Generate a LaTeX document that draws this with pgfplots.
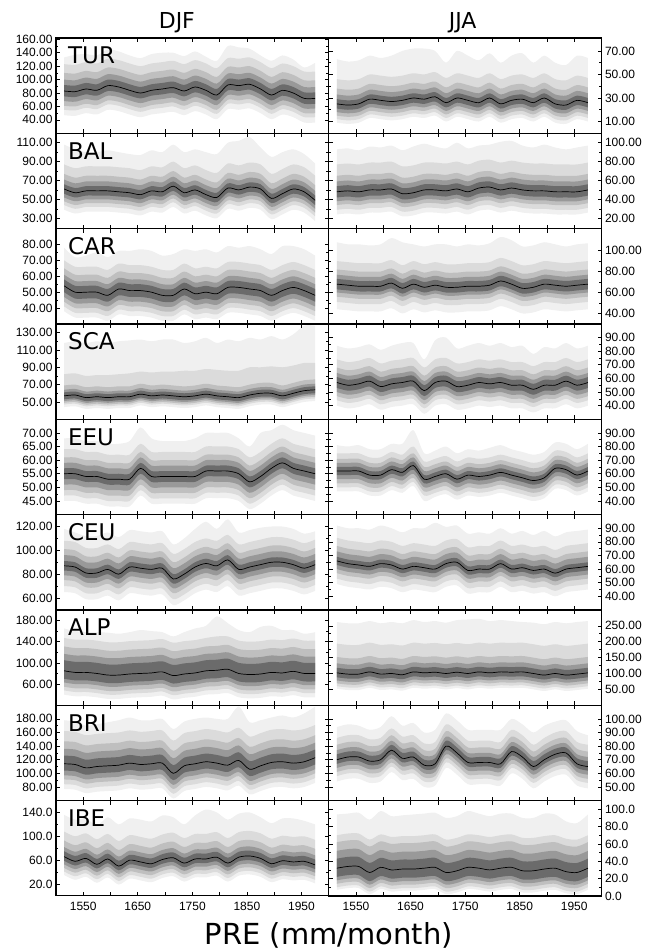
\documentclass[border=0pt]{standalone}
\usepackage{fontspec}
\setmainfont{Liberation Sans}
\newfontfamily\djv{DejaVu Sans}
\usepackage{pgfplots}
\usepackage{pgfplotstable}
\pgfplotsset{compat=1.18}
\usepgfplotslibrary{groupplots,fillbetween}

\definecolor{bandO}{gray}{0.94}
\definecolor{bandA}{gray}{0.86}
\definecolor{bandB}{gray}{0.75}
\definecolor{bandC}{gray}{0.60}
\definecolor{bandD}{gray}{0.42}

% columns: year, median, then lower/upper of the five bands (inner d .. outer o)
\pgfplotstableread{
x m d1 d2 c1 c2 b1 b2 a1 a2 o1 o2
1515 83 75 92 68 100 61 110 55 123 47 133
1535 82 74 91 67 99 60 109 54 122 46 137
1555 86 78 95 71 103 64 113 58 126 50 138
1575 84 76 93 69 101 62 111 56 124 48 136
1595 91 83 100 76 108 69 118 63 131 55 145
1615 89 81 98 74 106 67 116 61 129 53 142
1635 84 76 93 69 101 62 111 56 124 48 136
1655 80 72 89 65 97 58 107 52 120 44 132
1675 84 76 93 69 101 62 111 56 124 48 138
1695 86 78 95 71 103 64 113 58 126 50 140
1715 88 80 97 73 105 66 115 60 128 52 140
1735 83 75 92 68 100 61 110 55 123 47 135
1755 89 81 98 74 106 67 116 61 129 53 142
1775 84 76 93 69 101 62 111 56 124 48 134
1795 77 69 86 62 94 55 104 49 117 41 128
1815 92 84 101 77 109 70 119 64 132 56 150
1835 91 83 100 76 108 69 118 63 131 55 148
1855 93 85 102 78 110 71 120 65 133 57 146
1875 86 78 95 71 103 64 113 58 126 50 136
1895 77 69 86 62 94 55 104 49 117 41 128
1915 84 76 93 69 101 62 111 56 124 48 136
1935 80 72 89 65 97 58 107 52 120 44 130
1955 72 64 81 57 89 50 99 44 112 36 118
1975 72 64 81 57 89 50 99 44 112 36 125
}\turdjf
\pgfplotstableread{
x m d1 d2 c1 c2 b1 b2 a1 a2 o1 o2
1515 25 21 29 18 33 15 38 12 46 9 63
1535 24 20 28 17 32 14 37 11 45 8 61
1555 25 21 29 18 33 15 38 12 46 9 62
1575 29 25 33 22 37 19 42 16 50 13 66
1595 28 24 32 21 36 18 41 15 49 12 64
1615 27 23 31 20 35 17 40 14 48 11 66
1635 28 24 32 21 36 18 41 15 49 12 70
1655 30 26 34 23 38 20 43 17 51 14 72
1675 29 25 33 22 37 19 42 16 50 13 72
1695 31 27 35 24 39 21 44 18 52 15 70
1715 26 22 30 19 34 16 39 13 47 10 60
1735 30 26 34 23 38 20 43 17 51 14 70
1755 28 24 32 21 36 18 41 15 49 12 66
1775 26 22 30 19 34 16 39 13 47 10 62
1795 30 26 34 23 38 20 43 17 51 14 68
1815 25 21 29 18 33 15 38 12 46 9 60
1835 28 24 32 21 36 18 41 15 49 12 66
1855 29 25 33 22 37 19 42 16 50 13 68
1875 26 22 30 19 34 16 39 13 47 10 60
1895 30 26 34 23 38 20 43 17 51 14 66
1915 25 21 29 18 33 15 38 12 46 9 60
1935 24 20 28 17 32 14 37 11 45 8 58
1955 28 24 32 21 36 18 41 15 49 12 66
1975 26 22 30 19 34 16 39 13 47 10 64
}\turjja
\pgfplotstableread{
x m d1 d2 c1 c2 b1 b2 a1 a2 o1 o2
1515 61 56 66 52 71 48 77 44 87 39 108
1535 57 52 62 48 67 44 73 40 83 35 103
1555 59 54 64 50 69 46 75 42 85 37 100
1575 59 54 64 50 69 46 75 42 85 37 100
1595 59 54 64 50 69 46 75 42 85 37 102
1615 58 53 63 49 68 45 74 41 84 36 100
1635 57 52 62 48 67 44 73 40 83 35 98
1655 55 50 60 46 65 42 71 38 81 33 97
1675 59 54 64 50 69 46 75 42 85 37 102
1695 58 53 63 49 68 45 74 41 84 36 100
1715 64 59 69 55 74 51 80 47 90 42 108
1735 57 52 62 48 67 44 73 40 83 35 100
1755 60 55 65 51 70 47 76 43 86 38 103
1775 55 50 60 46 65 42 71 38 81 33 100
1795 52 47 57 43 62 39 68 35 78 30 98
1815 62 57 67 53 72 49 78 45 88 40 110
1835 60 55 65 51 70 47 76 43 86 38 112
1855 63 58 68 54 73 50 79 46 89 41 116
1875 61 56 66 52 71 48 77 44 87 39 105
1895 51 46 56 42 61 38 67 34 77 29 95
1915 56 51 61 47 66 43 72 39 82 34 100
1935 61 56 66 52 71 48 77 44 87 39 103
1955 58 53 63 49 68 45 74 41 84 36 98
1975 49 44 54 40 59 36 65 32 75 27 88
}\baldjf
\pgfplotstableread{
x m d1 d2 c1 c2 b1 b2 a1 a2 o1 o2
1515 48 42 54 38 59 34 65 29 77 24 93
1535 49 43 55 39 60 35 66 30 78 25 94
1555 48 42 54 38 59 34 65 29 77 24 92
1575 50 44 56 40 61 36 67 31 79 26 96
1595 50 44 56 40 61 36 67 31 79 26 95
1615 51 45 57 41 62 37 68 32 80 27 97
1635 46 40 52 36 57 32 63 27 75 22 92
1655 47 41 53 37 58 33 64 28 76 23 96
1675 50 44 56 40 61 36 67 31 79 26 99
1695 50 44 56 40 61 36 67 31 79 26 96
1715 49 43 55 39 60 35 66 30 78 25 94
1735 51 45 57 41 62 37 68 32 80 27 100
1755 48 42 54 38 59 34 65 29 77 24 94
1775 52 46 58 42 63 38 69 33 81 28 97
1795 53 47 59 43 64 39 70 34 82 29 98
1815 50 44 56 40 61 36 67 31 79 26 101
1835 52 46 58 42 63 38 69 33 81 28 102
1855 50 44 56 40 61 36 67 31 79 26 97
1875 49 43 55 39 60 35 66 30 78 25 95
1895 49 43 55 39 60 35 66 30 78 25 98
1915 48 42 54 38 59 34 65 29 77 24 95
1935 48 42 54 38 59 34 65 29 77 24 93
1955 48 42 54 38 59 34 65 29 77 24 95
1975 50 44 56 40 61 36 67 31 79 26 97
}\baljja
\pgfplotstableread{
x m d1 d2 c1 c2 b1 b2 a1 a2 o1 o2
1515 54 50 58 47 61 44 65 41 70 38 78
1535 50 46 54 43 57 40 61 37 66 34 72
1555 50 46 54 43 57 40 61 37 66 34 73
1575 50 46 54 43 57 40 61 37 66 34 75
1595 48 44 52 41 55 38 59 35 64 32 72
1615 52 48 56 45 59 42 63 39 68 36 76
1635 51 47 55 44 58 41 62 38 67 35 76
1655 51 47 55 44 58 41 62 38 67 35 77
1675 50 46 54 43 57 40 61 37 66 34 76
1695 48 44 52 41 55 38 59 35 64 32 73
1715 48 44 52 41 55 38 59 35 64 32 74
1735 52 48 56 45 59 42 63 39 68 36 77
1755 49 45 53 42 56 39 60 36 65 33 76
1775 50 46 54 43 57 40 61 37 66 34 77
1795 49 45 53 42 56 39 60 36 65 33 75
1815 53 49 57 46 60 43 64 40 69 37 79
1835 53 49 57 46 60 43 64 40 69 37 78
1855 52 48 56 45 59 42 63 39 68 36 79
1875 51 47 55 44 58 41 62 38 67 35 77
1895 48 44 52 41 55 38 59 35 64 32 74
1915 51 47 55 44 58 41 62 38 67 35 79
1935 53 49 57 46 60 43 64 40 69 37 79
1955 51 47 55 44 58 41 62 38 67 35 77
1975 48 44 52 41 55 38 59 35 64 32 73
}\cardjf
\pgfplotstableread{
x m d1 d2 c1 c2 b1 b2 a1 a2 o1 o2
1515 68 63 73 60 77 56 82 51 90 44 108
1535 67 62 72 59 76 55 81 50 89 43 106
1555 66 61 71 58 75 54 80 49 88 42 106
1575 66 61 71 58 75 54 80 49 88 42 105
1595 66 61 71 58 75 54 80 49 88 42 106
1615 69 64 74 61 78 57 83 52 91 45 112
1635 64 59 69 56 73 52 78 47 86 40 108
1655 68 63 73 60 77 56 82 51 90 44 106
1675 65 60 70 57 74 53 79 48 87 41 104
1695 67 62 72 59 76 55 81 50 89 43 106
1715 65 60 70 57 74 53 79 48 87 41 106
1735 65 60 70 57 74 53 79 48 87 41 104
1755 66 61 71 58 75 54 80 49 88 42 106
1775 66 61 71 58 75 54 80 49 88 42 105
1795 67 62 72 59 76 55 81 50 89 43 107
1815 71 66 76 63 80 59 85 54 93 47 113
1835 68 63 73 60 77 56 82 51 90 44 110
1855 64 59 69 56 73 52 78 47 86 40 104
1875 65 60 70 57 74 53 79 48 87 41 105
1895 68 63 73 60 77 56 82 51 90 44 108
1915 67 62 72 59 76 55 81 50 89 43 106
1935 66 61 71 58 75 54 80 49 88 42 104
1955 67 62 72 59 76 55 81 50 89 43 106
1975 68 63 73 60 77 56 82 51 90 44 107
}\carjja
\pgfplotstableread{
x m d1 d2 c1 c2 b1 b2 a1 a2 o1 o2
1515 57 53 61 51 64 49 69 47 82 44 118
1535 58 54 62 52 65 50 70 48 83 45 120
1555 55 51 59 49 62 47 67 45 80 42 118
1575 56 52 60 50 63 48 68 46 81 43 120
1595 55 51 59 49 62 47 67 45 81 42 118
1615 56 52 60 50 63 48 68 46 82 43 120
1635 56 52 60 50 63 48 68 46 83 43 121
1655 59 55 63 53 66 51 71 49 85 46 122
1675 57 53 61 51 64 49 69 47 84 44 120
1695 58 54 62 52 65 50 70 48 85 45 122
1715 57 53 61 51 64 49 69 47 85 44 122
1735 56 52 60 50 63 48 68 46 86 43 118
1755 57 53 61 51 64 49 69 47 86 44 120
1775 59 55 63 53 66 51 71 49 88 46 124
1795 57 53 61 51 64 49 69 47 87 44 118
1815 56 52 60 50 63 48 68 46 86 43 122
1835 55 51 59 49 62 47 67 45 86 42 120
1855 58 54 62 52 65 50 70 48 90 45 124
1875 60 56 64 54 67 52 72 50 90 47 122
1895 60 56 64 54 67 52 72 50 91 47 126
1915 57 53 61 51 64 49 69 47 90 44 122
1935 60 56 64 54 67 52 72 50 92 47 128
1955 63 59 67 57 70 55 75 53 95 50 138
1975 64 60 68 58 71 56 76 54 95 51 138
}\scadjf
\pgfplotstableread{
x m d1 d2 c1 c2 b1 b2 a1 a2 o1 o2
1515 57 53 61 50 64 47 68 44 74 40 84
1535 55 51 59 48 62 45 66 42 72 38 82
1555 56 52 60 49 63 46 67 43 73 39 83
1575 58 54 62 51 65 48 69 45 75 41 85
1595 54 50 58 47 61 44 65 41 71 37 81
1615 56 52 60 49 63 46 67 43 73 39 84
1635 57 53 61 50 64 47 68 44 74 40 86
1655 58 54 62 51 65 48 69 45 75 41 86
1675 51 47 55 44 58 41 62 38 68 34 74
1695 57 53 61 50 64 47 68 44 74 40 88
1715 58 54 62 51 65 48 69 45 75 41 90
1735 54 50 58 47 61 44 65 41 71 37 82
1755 55 51 59 48 62 45 66 42 72 38 84
1775 57 53 61 50 64 47 68 44 74 40 86
1795 56 52 60 49 63 46 67 43 73 39 84
1815 57 53 61 50 64 47 68 44 74 40 86
1835 55 51 59 48 62 45 66 42 72 38 83
1855 55 51 59 48 62 45 66 42 72 38 84
1875 52 48 56 45 59 42 63 39 69 35 78
1895 55 51 59 48 62 45 66 42 72 38 83
1915 55 51 59 48 62 45 66 42 72 38 82
1935 58 54 62 51 65 48 69 45 75 41 86
1955 55 51 59 48 62 45 66 42 72 38 82
1975 57 53 61 50 64 47 68 44 74 40 84
}\scajja
\pgfplotstableread{
x m d1 d2 c1 c2 b1 b2 a1 a2 o1 o2
1515 55 53 57 51 59 49 61 47 64 45 68
1535 55 53 57 51 59 49 61 47 64 45 68
1555 54 52 56 50 58 48 60 46 63 44 67
1575 54 52 56 50 58 48 60 46 63 44 67
1595 53 51 55 49 57 47 59 45 62 43 66
1615 53 51 55 49 57 47 59 45 62 43 66
1635 53 51 55 49 57 47 59 45 62 43 67
1655 57 55 59 53 61 51 63 49 66 47 72
1675 54 52 56 50 58 48 60 46 63 44 68
1695 54 52 56 50 58 48 60 46 63 44 67
1715 54 52 56 50 58 48 60 46 63 44 67
1735 54 52 56 50 58 48 60 46 63 44 67
1755 54 52 56 50 58 48 60 46 63 44 68
1775 56 54 58 52 60 50 62 48 65 46 70
1795 56 54 58 52 60 50 62 48 65 46 70
1815 56 54 58 52 60 50 62 48 65 46 70
1835 55 53 57 51 59 49 61 47 64 45 68
1855 52 50 54 48 56 46 58 44 61 42 65
1875 54 52 56 50 58 48 60 46 63 44 70
1895 57 55 59 53 61 51 63 49 66 47 71
1915 59 57 61 55 63 53 65 51 68 49 73
1935 57 55 59 53 61 51 63 49 66 47 71
1955 56 54 58 52 60 50 62 48 65 46 70
1975 55 53 57 51 59 49 61 47 64 45 69
}\eeudjf
\pgfplotstableread{
x m d1 d2 c1 c2 b1 b2 a1 a2 o1 o2
1515 62 59 65 56 68 53 71 50 75 47 81
1535 62 59 65 56 68 53 71 50 75 47 80
1555 62 59 65 56 68 53 71 50 75 47 81
1575 59 56 62 53 65 50 68 47 72 44 78
1595 59 56 62 53 65 50 68 47 72 44 78
1615 63 60 66 57 69 54 72 51 76 48 82
1635 61 58 64 55 67 52 70 49 74 46 82
1655 66 63 69 60 72 57 75 54 80 51 92
1675 56 53 59 50 62 47 65 44 69 40 75
1695 58 55 61 52 64 49 67 46 71 43 77
1715 60 57 63 54 66 51 69 48 73 45 80
1735 56 53 59 50 62 47 65 44 69 41 75
1755 59 56 62 53 65 50 68 47 72 44 78
1775 58 55 61 52 64 49 67 46 71 43 77
1795 59 56 62 53 65 50 68 47 72 44 79
1815 61 58 64 55 67 52 70 49 74 46 81
1835 59 56 62 53 65 50 68 47 72 44 78
1855 57 54 60 51 63 48 66 45 70 42 76
1875 55 52 58 49 61 46 64 43 68 40 74
1895 57 54 60 51 63 48 66 45 70 42 76
1915 64 61 67 58 70 55 73 52 77 49 83
1935 63 60 66 57 69 54 72 51 76 48 82
1955 59 56 62 53 65 50 68 47 72 44 78
1975 62 59 65 56 68 53 71 50 75 47 82
}\eeujja
\pgfplotstableread{
x m d1 d2 c1 c2 b1 b2 a1 a2 o1 o2
1515 87 83 91 79 96 75 101 70 108 65 118
1535 86 82 90 78 95 74 100 69 107 64 115
1555 81 77 85 73 90 69 95 64 102 59 112
1575 81 77 85 73 90 69 95 64 102 59 112
1595 84 80 88 76 93 72 98 67 105 62 115
1615 80 76 84 72 89 68 94 63 101 58 111
1635 86 82 90 78 95 74 100 69 107 64 117
1655 85 81 89 77 94 73 99 68 106 63 116
1675 84 80 88 76 93 72 98 67 105 62 115
1695 85 81 89 77 94 73 99 68 106 63 116
1715 76 72 80 68 85 64 90 59 97 54 105
1735 80 76 84 72 89 68 94 63 101 58 110
1755 86 82 90 78 95 74 100 69 107 64 118
1775 89 85 93 81 98 77 103 72 110 67 124
1795 87 83 91 79 96 75 101 70 108 65 118
1815 92 88 96 84 101 80 106 75 113 70 126
1835 84 80 88 76 93 72 98 67 105 62 115
1855 86 82 90 78 95 74 100 69 107 64 117
1875 88 84 92 80 97 76 102 71 109 66 119
1895 90 86 94 82 99 78 104 73 111 68 120
1915 90 86 94 82 99 78 104 73 111 68 120
1935 88 84 92 80 97 76 102 71 109 66 118
1955 85 81 89 77 94 73 99 68 106 63 114
1975 88 84 92 80 97 76 102 71 109 66 116
}\ceudjf
\pgfplotstableread{
x m d1 d2 c1 c2 b1 b2 a1 a2 o1 o2
1515 66 63 69 60 73 57 77 53 83 49 92
1535 64 61 67 58 71 55 75 51 81 47 90
1555 63 60 66 57 70 54 74 50 80 46 90
1575 62 59 65 56 69 53 73 49 79 45 89
1595 64 61 67 58 71 55 75 51 81 47 92
1615 63 60 66 57 70 54 74 50 80 46 90
1635 60 57 63 54 67 51 71 47 77 43 87
1655 62 59 65 56 69 53 73 49 79 45 90
1675 61 58 64 55 68 52 72 48 78 44 90
1695 60 57 63 54 67 51 71 47 77 43 94
1715 64 61 67 58 71 55 75 51 81 47 91
1735 65 62 68 59 72 56 76 52 82 48 92
1755 59 56 62 53 66 50 70 46 76 42 86
1775 60 57 63 54 67 51 71 47 77 43 87
1795 60 57 63 54 67 51 71 47 77 43 86
1815 64 61 67 58 71 55 75 51 81 47 90
1835 60 57 63 54 67 51 71 47 77 43 86
1855 61 58 64 55 68 52 72 48 78 44 88
1875 59 56 62 53 66 50 70 46 76 42 85
1895 60 57 63 54 67 51 71 47 77 43 88
1915 57 54 60 51 64 48 68 44 74 40 84
1935 60 57 63 54 67 51 71 47 77 43 87
1955 61 58 64 55 68 52 72 48 78 44 88
1975 62 59 65 56 69 53 73 49 79 45 89
}\ceujja
\pgfplotstableread{
x m d1 d2 c1 c2 b1 b2 a1 a2 o1 o2
1515 85 70 105 63 117 55 131 48 147 40 165
1535 82 67 102 60 114 52 128 45 144 37 160
1555 82 67 102 60 114 52 128 45 144 37 158
1575 80 65 100 58 112 50 126 43 142 35 158
1595 77 62 97 55 109 47 123 40 139 32 157
1615 77 62 97 55 109 47 123 40 139 32 155
1635 79 64 99 57 111 49 125 42 141 34 158
1655 80 65 100 58 112 50 126 43 142 35 162
1675 81 66 101 59 113 51 127 44 143 36 160
1695 83 68 103 61 115 53 129 46 145 38 158
1715 76 61 96 54 108 46 122 39 138 31 150
1735 79 64 99 57 111 49 125 42 141 34 158
1755 81 66 101 59 113 51 127 44 143 36 165
1775 85 70 105 63 117 55 131 48 147 40 170
1795 86 71 106 64 118 56 132 49 150 41 188
1815 88 73 108 66 120 58 134 51 150 43 175
1835 80 65 100 58 112 50 126 43 142 35 162
1855 78 63 98 56 110 48 124 41 140 33 158
1875 79 64 99 57 111 49 125 42 141 34 168
1895 82 67 102 60 114 52 128 45 144 37 170
1915 81 66 101 59 113 51 127 44 143 36 162
1935 84 69 104 62 116 54 130 47 146 39 162
1955 80 65 100 58 112 50 126 43 142 35 155
1975 80 65 100 58 112 50 126 43 142 35 158
}\alpdjf
\pgfplotstableread{
x m d1 d2 c1 c2 b1 b2 a1 a2 o1 o2
1515 102 88 118 78 132 69 152 60 194 52 262
1535 98 84 114 74 128 65 148 56 190 48 258
1555 98 84 114 74 128 65 148 56 190 48 258
1575 105 91 121 81 135 72 155 63 197 55 265
1595 98 84 114 74 128 65 148 56 190 48 258
1615 100 86 116 76 130 67 150 58 192 50 262
1635 96 82 112 72 126 63 146 54 188 46 258
1655 105 91 121 81 135 72 155 63 197 55 268
1675 102 88 118 78 132 69 152 60 194 52 262
1695 104 90 120 80 134 71 154 62 196 54 265
1715 100 86 116 76 130 67 150 58 192 50 260
1735 104 90 120 80 134 71 154 62 196 54 268
1755 100 86 116 76 130 67 150 58 192 50 270
1775 105 91 121 81 135 72 155 63 197 55 272
1795 102 88 118 78 132 69 152 60 194 52 265
1815 105 91 121 81 135 72 155 63 197 55 268
1835 104 90 120 80 134 71 154 62 196 54 265
1855 105 91 121 81 135 72 155 63 197 55 262
1875 100 86 116 76 130 67 150 58 192 50 260
1895 95 81 111 71 125 62 145 53 187 45 255
1915 100 86 116 76 130 67 150 58 192 50 262
1935 95 81 111 71 125 62 145 53 187 45 258
1955 98 84 114 74 128 65 148 56 190 48 262
1975 102 88 118 78 132 69 152 60 194 52 265
}\alpjja
\pgfplotstableread{
x m d1 d2 c1 c2 b1 b2 a1 a2 o1 o2
1515 114 104 126 97 136 91 147 84 162 77 178
1535 113 103 125 96 135 90 146 83 161 76 176
1555 108 98 120 91 130 85 141 78 156 71 170
1575 110 100 122 93 132 87 143 80 158 73 172
1595 111 101 123 94 133 88 144 81 159 74 175
1615 112 102 124 95 134 89 145 82 160 75 178
1635 115 105 127 98 137 92 148 85 163 78 182
1655 113 103 125 96 135 90 146 83 161 76 178
1675 114 104 126 97 136 91 147 84 162 77 178
1695 115 105 127 98 137 92 148 85 163 78 180
1715 100 90 112 83 122 77 133 70 148 63 165
1735 111 101 123 94 133 88 144 81 159 74 176
1755 114 104 126 97 136 91 147 84 162 77 180
1775 117 107 129 100 139 94 150 87 165 80 182
1795 115 105 127 98 137 92 148 85 163 78 180
1815 112 102 124 95 134 89 145 82 160 75 180
1835 119 109 131 102 141 96 152 89 167 82 198
1855 106 96 118 89 128 83 139 76 154 69 175
1875 111 101 123 94 133 88 144 81 159 74 178
1895 116 106 128 99 138 93 149 86 164 79 182
1915 117 107 129 100 139 94 150 87 165 80 185
1935 115 105 127 98 137 92 148 85 163 78 182
1955 117 107 129 100 139 94 150 87 165 80 188
1975 123 113 135 106 145 100 156 93 171 86 198
}\bridjf
\pgfplotstableread{
x m d1 d2 c1 c2 b1 b2 a1 a2 o1 o2
1515 70 67 74 64 77 61 81 58 86 54 94
1535 72 69 76 66 79 63 83 60 88 56 96
1555 72 69 76 66 79 63 83 60 88 56 95
1575 69 66 73 63 76 60 80 57 85 53 92
1595 70 67 74 64 77 61 81 58 86 54 94
1615 77 74 81 71 84 68 88 65 93 61 102
1635 71 68 75 65 78 62 82 59 87 55 95
1655 72 69 76 66 79 63 83 60 88 56 97
1675 66 63 70 60 73 57 77 54 82 50 90
1695 67 64 71 61 74 58 78 55 83 51 92
1715 80 77 84 74 87 71 91 68 96 64 104
1735 75 72 79 69 82 66 86 63 91 59 99
1755 68 65 72 62 75 59 79 56 84 52 92
1775 68 65 72 62 75 59 79 56 84 52 92
1795 68 65 72 62 75 59 79 56 84 52 92
1815 67 64 71 61 74 58 78 55 83 51 92
1835 76 73 80 70 83 67 87 64 92 60 100
1855 72 69 76 66 79 63 83 60 88 56 96
1875 65 62 69 59 72 56 76 53 81 49 90
1895 70 67 74 64 77 61 81 58 86 54 95
1915 74 71 78 68 81 65 85 62 90 58 98
1935 75 72 79 69 82 66 86 63 91 59 99
1955 67 64 71 61 74 58 78 55 83 51 91
1975 65 62 69 59 72 56 76 53 81 49 88
}\brijja
\pgfplotstableread{
x m d1 d2 c1 c2 b1 b2 a1 a2 o1 o2
1515 66 59 75 53 82 47 93 41 108 35 136
1535 58 51 67 45 74 39 85 33 100 27 128
1555 63 56 72 50 79 44 90 38 105 32 130
1575 53 46 62 40 69 34 80 28 95 22 118
1595 62 55 71 49 78 43 89 37 104 31 132
1615 50 43 59 37 66 31 77 25 92 19 120
1635 60 53 69 47 76 41 87 35 102 29 130
1655 57 50 66 44 73 38 84 32 99 26 128
1675 54 47 63 41 70 35 81 29 96 23 125
1695 61 54 70 48 77 42 88 36 103 30 135
1715 64 57 73 51 80 45 91 39 106 33 132
1735 55 48 64 42 71 36 82 30 97 24 120
1755 62 55 71 49 78 43 89 37 104 31 135
1775 62 55 71 49 78 43 89 37 104 31 145
1795 65 58 74 52 81 46 92 40 107 34 140
1815 55 48 64 42 71 36 82 30 97 24 128
1835 65 58 74 52 81 46 92 40 107 34 138
1855 67 60 76 54 83 48 94 42 109 36 140
1875 63 56 72 50 79 44 90 38 105 32 132
1895 54 47 63 41 70 35 81 29 96 23 122
1915 59 52 68 46 75 40 86 34 101 28 130
1935 57 50 66 44 73 38 84 32 99 26 130
1955 58 51 67 45 74 39 85 33 100 27 126
1975 52 45 61 39 68 33 79 27 94 21 120
}\ibedjf
\pgfplotstableread{
x m d1 d2 c1 c2 b1 b2 a1 a2 o1 o2
1515 32 22 43 18 52 14 62 10 70 7 94
1535 34 24 45 20 54 16 64 12 72 9 95
1555 34 24 45 20 54 16 64 12 72 9 96
1575 27 17 38 13 47 9 57 5 65 2 88
1595 33 23 44 19 53 15 63 11 71 8 98
1615 30 20 41 16 50 12 60 8 68 5 92
1635 31 21 42 17 51 13 61 9 69 6 93
1655 31 21 42 17 51 13 61 9 69 6 94
1675 32 22 43 18 52 14 62 10 70 7 95
1695 33 23 44 19 53 15 63 11 71 8 96
1715 27 17 38 13 47 9 57 5 65 2 90
1735 29 19 40 15 49 11 59 7 67 4 92
1755 33 23 44 19 53 15 63 11 71 8 98
1775 32 22 43 18 52 14 62 10 70 7 95
1795 30 20 41 16 50 12 60 8 68 5 92
1815 32 22 43 18 52 14 62 10 70 7 95
1835 33 23 44 19 53 15 63 11 71 8 95
1855 29 19 40 15 49 11 59 7 67 4 90
1875 29 19 40 15 49 11 59 7 67 4 90
1895 31 21 42 17 51 13 61 9 69 6 95
1915 32 22 43 18 52 14 62 10 70 7 94
1935 28 18 39 14 48 10 58 6 66 3 86
1955 27 17 38 13 47 9 57 5 65 2 84
1975 32 22 43 18 52 14 62 10 70 7 94
}\ibejja

% one band: lower column, upper column, colour
\newcommand{\band}[4]{%
 \addplot[draw=none,smooth,name path=lo] table[x=x,y=#2]{#1};
 \addplot[draw=none,smooth,name path=hi] table[x=x,y=#3]{#1};
 \addplot[#4,draw=none] fill between[of=hi and lo];
}
\newcommand{\fan}[2]{%
 \band{#1}{o1}{o2}{bandO}
 \band{#1}{a1}{a2}{bandA}
 \band{#1}{b1}{b2}{bandB}
 \band{#1}{c1}{c2}{bandC}
 \band{#1}{d1}{d2}{bandD}
 \addplot[black,line width=0.7pt,smooth] table[x=x,y=m]{#1};
 \ifx&#2&\else
 \node[anchor=base west,inner sep=0pt,font=\djv\fontsize{23}{23}\selectfont] at (rel axis cs:0.044,0.727) {#2};
 \fi
}
\newcommand{\tickfont}{\fontsize{12}{12}\selectfont}

\begin{document}
\begin{tikzpicture}
\begin{groupplot}[
 group style={group name=G,group size=2 by 9,horizontal sep=0pt,vertical sep=0pt,
 xticklabels at=edge bottom},
 width=273pt,height=95.4pt,scale only axis,
 xmin=1500,xmax=2000,
 xtick={1550,1600,...,1950},
 xticklabels={1550,,1650,,1750,,1850,,1950},
 tick align=inside,xtick pos=both,ytick pos=both,
 major tick length=4pt,minor tick length=2.5pt,
 minor y tick num=1,
 axis on top,
 axis line style={line width=1.2pt},
 tick style={black,line width=0.6pt},
 ticklabel style={font=\tickfont},
 xticklabel style={yshift=-3pt},
 yticklabel style={/pgf/number format/fixed,/pgf/number format/fixed zerofill,
 /pgf/number format/precision=2,/pgf/number format/assume math mode=true},
]
\nextgroupplot[ymin=20,ymax=162,ytick={40,60,...,160},yticklabel pos=left]
\fan{\turdjf}{TUR}
\nextgroupplot[ymin=0,ymax=81,ytick={10,30,50,70},yticklabel pos=right]
\fan{\turjja}{}
\nextgroupplot[ymin=19,ymax=120,ytick={30,50,...,110},yticklabel pos=left]
\fan{\baldjf}{BAL}
\nextgroupplot[ymin=9,ymax=110,ytick={20,40,...,100},yticklabel pos=right]
\fan{\baljja}{}
\nextgroupplot[ymin=30,ymax=90,ytick={40,50,...,80},yticklabel pos=left]
\fan{\cardjf}{CAR}
\nextgroupplot[ymin=30,ymax=121,ytick={40,60,...,100},yticklabel pos=right]
\fan{\carjja}{}
\nextgroupplot[ymin=30,ymax=140,ytick={50,70,...,130},yticklabel pos=left]
\fan{\scadjf}{SCA}
\nextgroupplot[ymin=30,ymax=100,ytick={40,50,...,90},yticklabel pos=right]
\fan{\scajja}{}
\nextgroupplot[ymin=40,ymax=75,ytick={45,50,...,70},yticklabel pos=left]
\fan{\eeudjf}{EEU}
\nextgroupplot[ymin=30,ymax=100,ytick={40,50,...,90},yticklabel pos=right]
\fan{\eeujja}{}
\nextgroupplot[ymin=50,ymax=130,ytick={60,80,...,120},yticklabel pos=left]
\fan{\ceudjf}{CEU}
\nextgroupplot[ymin=30,ymax=100,ytick={40,50,...,90},yticklabel pos=right]
\fan{\ceujja}{}
\nextgroupplot[ymin=20,ymax=200,ytick={60,100,...,180},yticklabel pos=left]
\fan{\alpdjf}{ALP}
\nextgroupplot[ymin=0,ymax=300,ytick={50,100,...,250},yticklabel pos=right]
\fan{\alpjja}{}
\nextgroupplot[ymin=60,ymax=200,ytick={80,100,...,180},yticklabel pos=left]
\fan{\bridjf}{BRI}
\nextgroupplot[ymin=40,ymax=110,ytick={50,60,...,100},yticklabel pos=right]
\fan{\brijja}{}
\nextgroupplot[ymin=0,ymax=160,ytick={20,60,100,140},yticklabel pos=left,
 yticklabel style={/pgf/number format/precision=1}]
\fan{\ibedjf}{IBE}
\nextgroupplot[ymin=0,ymax=110,ytick={0,20,...,100},yticklabel pos=right,
 yticklabel style={/pgf/number format/precision=1}]
\fan{\ibejja}{}
\end{groupplot}
\node[anchor=base,font=\djv\fontsize{22}{22}\selectfont] at ([shift={(121pt,9pt)}]G c1r1.north west) {DJF};
\node[anchor=base,font=\djv\fontsize{22}{22}\selectfont] at ([shift={(134pt,9pt)}]G c2r1.north west) {JJA};
\node[anchor=base,font=\djv\fontsize{29}{29}\selectfont] at ([shift={(273pt,-49pt)}]G c1r9.south west) {PRE (mm/month)};
\path ([shift={(-56pt,38pt)}]G c1r1.north west) rectangle ++(654pt,-952pt);
\end{tikzpicture}
\end{document}
